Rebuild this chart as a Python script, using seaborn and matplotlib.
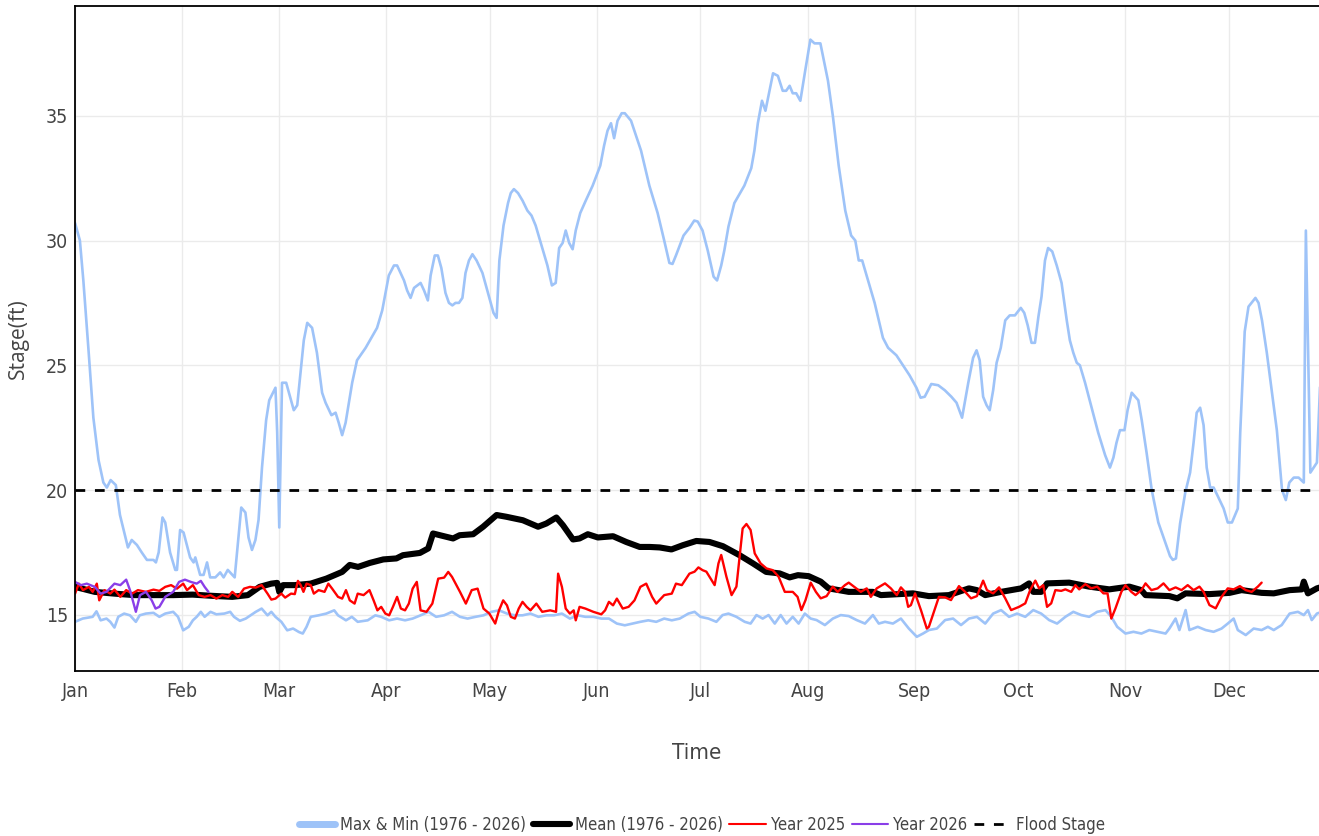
import copy
import numpy as np
import pandas as pd
import matplotlib
matplotlib.use('Agg')
import matplotlib.pyplot as plt
from matplotlib import font_manager
import seaborn as sns

# Day of year (0 = Jan 1) and stage (ft)
max_day = [0, 1.4, 2.4, 3.9, 5.3, 6.8, 8.2, 9.2, 10.3, 11.8, 13.0, 15.3, 16.4, 17.9, 19.3,
           20.8, 22.7, 23.4, 24.2, 25.3, 26.1, 27.5, 29.0, 29.5, 30.4, 31.4, 33.3, 34.3, 34.8,
           36.2, 37.2, 38.2, 39.1, 40.6, 42.0, 43.0, 44.2, 46.2, 48.1, 49.3, 50.2, 51.2, 52.2,
           53.1, 54.1, 55.3, 56.2, 58.0, 58.5, 59.1, 59.9, 61.1, 63.3, 64.3, 66.2, 67.2, 68.6,
           70.0, 71.5, 72.5, 74.2, 75.4, 76.3, 77.3, 78.3, 80.2, 81.6, 84.1, 87.4, 88.9, 90.8,
           92.3, 93.2, 95.2, 96.1, 97.1, 98.1, 100.0, 101.0, 102.1, 102.9, 104.1, 105.0, 106.0,
           107.2, 108.2, 109.2, 110.1, 111.1, 112.1, 113.0, 114.0, 115.0, 116.2, 117.9, 119.3,
           121.1, 122.0, 122.8, 124.0, 125.3, 126.1, 127.0, 128.2, 129.5, 130.9, 132.1, 133.3,
           134.8, 136.7, 138.0, 139.1, 140.1, 141.1, 142.0, 143.0, 144.0, 144.9, 146.2, 147.8,
           149.8, 152.0, 153.1, 154.1, 155.1, 156.0, 157.0, 158.2, 159.1, 160.9, 163.8, 166.2,
           168.6, 170.5, 172.0, 172.9, 173.9, 176.1, 177.8, 179.2, 180.2, 181.6, 183.1, 184.8,
           185.8, 187.0, 187.9, 189.1, 190.8, 193.7, 195.7, 196.6, 197.6, 198.8, 199.8, 202.0,
           203.4, 204.8, 205.8, 206.8, 207.7, 208.7, 209.9, 211.3, 212.8, 214.0, 215.7, 217.9,
           219.3, 221.0, 222.9, 224.6, 225.8, 226.8, 227.8, 229.5, 231.4, 233.8, 235.3, 237.7,
           239.6, 241.5, 243.5, 244.7, 245.9, 247.8, 249.8, 251.7, 253.6, 255.1, 256.7, 258.5,
           259.9, 260.9, 261.8, 262.8, 263.8, 264.7, 265.7, 266.7, 267.9, 269.2, 270.5, 272.0,
           273.7, 274.7, 275.7, 276.8, 277.8, 278.8, 279.7, 280.7, 281.6, 282.8, 284.1, 285.5,
           287.0, 287.9, 288.9, 289.9, 290.8, 292.3, 294.2, 296.1, 298.1, 299.5, 300.5, 301.4,
           302.4, 303.7, 304.6, 305.8, 307.7, 308.7, 310.1, 311.6, 313.5, 315.5, 316.9, 317.7,
           318.6, 319.8, 321.3, 322.7, 323.7, 324.6, 325.6, 326.6, 327.5, 328.5, 329.5, 330.9,
           332.4, 333.6, 334.8, 336.5, 337.2, 338.5, 339.6, 341.6, 342.5, 343.5, 344.9, 346.4,
           347.8, 349.3, 350.4, 351.4, 352.7, 354.1, 355.6, 356.2, 357.5, 359.4, 360.4]
max_stage = [30.7, 30.0, 28.4, 25.6, 22.9, 21.2, 20.3, 20.1, 20.4, 20.2, 19.0, 17.7, 18.0, 17.8, 17.5,
             17.2, 17.2, 17.1, 17.5, 18.9, 18.7, 17.5, 16.8, 16.8, 18.4, 18.3, 17.3, 17.1, 17.3,
             16.6, 16.6, 17.1, 16.5, 16.5, 16.7, 16.5, 16.8, 16.5, 19.3, 19.1, 18.1, 17.6, 18.0,
             18.8, 20.9, 22.8, 23.6, 24.1, 22.3, 18.5, 24.3, 24.3, 23.2, 23.4, 26.0, 26.7, 26.5,
             25.5, 23.9, 23.5, 23.0, 23.1, 22.7, 22.2, 22.7, 24.3, 25.2, 25.7, 26.5, 27.2, 28.6,
             29.0, 29.0, 28.4, 28.0, 27.7, 28.1, 28.3, 28.0, 27.6, 28.6, 29.4, 29.4, 28.9,
             27.9, 27.5, 27.4, 27.5, 27.5, 27.7, 28.7, 29.2, 29.45, 29.2, 28.7, 28.0,
             27.1, 26.9, 29.2, 30.6, 31.5, 31.9, 32.06, 31.9, 31.6, 31.2, 31.0, 30.6,
             29.9, 29.0, 28.2, 28.3, 29.7, 29.9, 30.4, 29.9, 29.65, 30.4, 31.1, 31.6,
             32.2, 33.0, 33.8, 34.4, 34.7, 34.1, 34.8, 35.1, 35.1, 34.8, 33.6, 32.2,
             31.1, 30.0, 29.1, 29.06, 29.4, 30.2, 30.5, 30.8, 30.76, 30.4, 29.6, 28.55,
             28.4, 29.0, 29.6, 30.56, 31.5, 32.2, 32.9, 33.6, 34.7, 35.6, 35.2, 36.7,
             36.6, 36.0, 36.0, 36.2, 35.9, 35.9, 35.6, 36.8, 38.05, 37.9, 37.9, 36.4,
             35.0, 33.0, 31.2, 30.2, 30.0, 29.2, 29.2, 28.4, 27.5, 26.1, 25.7, 25.4,
             25.0, 24.6, 24.1, 23.7, 23.74, 24.25, 24.2, 24.0, 23.74, 23.5, 22.9, 24.3,
             25.3, 25.6, 25.2, 23.74, 23.4, 23.2, 24.0, 25.1, 25.7, 26.8, 27.0, 27.0,
             27.3, 27.1, 26.6, 25.9, 25.9, 26.95, 27.75, 29.2, 29.7, 29.56, 29.0, 28.3,
             26.8, 26.0, 25.5, 25.1, 25.0, 24.3, 23.3, 22.3, 21.4, 20.9, 21.3, 21.9,
             22.4, 22.4, 23.2, 23.9, 23.6, 22.8, 21.5, 20.0, 18.7, 17.9, 17.35, 17.2,
             17.26, 18.66, 19.9, 20.7, 21.9, 23.1, 23.3, 22.6, 20.9, 20.1, 20.1, 19.7,
             19.26, 18.7, 18.7, 19.26, 22.3, 26.35, 27.35, 27.7, 27.5, 26.8, 25.5, 23.9,
             22.4, 20.0, 19.6, 20.3, 20.5, 20.5, 20.3, 30.4, 20.7, 21.1, 24.5]

min_day = [0, 2.2, 5.1, 6.2, 7.4, 9.1, 10.2, 11.4, 12.5, 14.2, 15.9, 17.6, 18.7, 20.5, 22.7,
           24.4, 26.1, 28.4, 29.8, 31.3, 32.9, 34.1, 35.2, 36.4, 37.5, 39.2, 40.9, 43.2, 44.9,
           46.0, 47.7, 49.4, 52.3, 54.0, 55.7, 56.8, 58.0, 59.7, 61.4, 63.1, 64.8, 65.9, 67.0,
           68.2, 70.5, 72.7, 75.0, 76.1, 78.4, 80.1, 81.8, 84.7, 86.9, 88.6, 90.9, 93.2, 95.5,
           97.7, 100.0, 102.3, 104.5, 106.8, 109.1, 111.4, 113.6, 115.9, 118.2, 120.5, 122.7,
           125.0, 127.3, 129.5, 131.8, 134.1, 136.4, 138.6, 140.9, 143.2, 145.5, 147.7,
           150.0, 152.3, 154.5, 156.8, 159.1, 161.4, 163.6, 165.9, 168.2, 170.5, 172.7,
           175.0, 177.5, 179.3, 181.0, 183.3, 185.6, 187.4, 189.1, 191.4, 193.8, 195.5,
           197.2, 199.0, 200.7, 202.5, 204.2, 205.9, 207.7, 209.4, 211.2, 212.9, 214.6,
           217.0, 219.3, 221.6, 223.9, 226.2, 228.6, 230.9, 232.6, 234.4, 236.7, 239.0,
           241.3, 243.6, 245.4, 247.1, 249.4, 251.8, 254.1, 256.4, 258.7, 261.0, 263.4,
           265.7, 268.0, 270.3, 272.6, 275.0, 277.3, 279.6, 281.9, 284.2, 286.6, 288.9,
           291.2, 293.5, 295.8, 298.2, 299.9, 301.6, 304.0, 306.3, 308.6, 310.9, 313.3,
           315.6, 316.7, 318.5, 319.6, 321.4, 322.5, 324.9, 327.2, 329.5, 331.8, 333.6,
           335.3, 336.5, 338.8, 341.1, 343.4, 345.2, 346.9, 349.2, 351.5, 353.9, 355.6,
           356.8, 357.9, 359.4, 360.4]
min_stage = [14.72, 14.85, 14.92, 15.14, 14.78, 14.85, 14.72, 14.49, 14.92, 15.05, 14.98, 14.72, 14.98, 15.05, 15.08,
             14.92, 15.05, 15.12, 14.92, 14.38, 14.52, 14.78, 14.92, 15.12, 14.92, 15.12, 15.02, 15.05, 15.12,
             14.92, 14.76, 14.85, 15.12, 15.25, 14.98, 15.12, 14.92, 14.72, 14.38, 14.45, 14.31, 14.25, 14.52,
             14.92, 14.98, 15.05, 15.18, 14.98, 14.78, 14.92, 14.72, 14.78, 14.98, 14.92, 14.78, 14.85, 14.78,
             14.85, 14.98, 15.12, 14.92, 14.98, 15.12, 14.92, 14.85, 14.92, 14.98, 15.12, 15.18,
             15.05, 14.98, 14.98, 15.05, 14.92, 14.98, 14.98, 15.05, 14.85, 14.98,
             14.92, 14.92, 14.85, 14.85, 14.65, 14.58, 14.65, 14.72, 14.78, 14.72, 14.85,
             14.78, 14.85, 15.05, 15.12, 14.92, 14.85, 14.72, 14.99, 15.05, 14.92, 14.72, 14.65,
             14.99, 14.85, 14.99, 14.65, 14.99, 14.65, 14.92, 14.65, 15.05, 14.85, 14.79,
             14.59, 14.85, 14.99, 14.95, 14.79, 14.65, 14.99, 14.65, 14.72, 14.65, 14.85,
             14.45, 14.12, 14.25, 14.39, 14.45, 14.79, 14.85, 14.59, 14.85, 14.92, 14.65,
             15.05, 15.19, 14.92, 15.05, 14.92, 15.19, 15.05, 14.79, 14.65, 14.92, 15.12,
             14.99, 14.92, 15.12, 15.19, 14.92, 14.52, 14.25, 14.32, 14.25, 14.39, 14.32,
             14.25, 14.45, 14.85, 14.39, 15.19, 14.39, 14.52, 14.39, 14.32, 14.45, 14.65,
             14.85, 14.39, 14.19, 14.45, 14.39, 14.52, 14.39, 14.59, 15.05, 15.12, 14.99,
             15.19, 14.79, 15.05, 15.1]

mean_day = [0, 5.7, 11.4, 17.0, 22.7, 28.4, 34.0, 39.8, 45.5, 50.0, 53.4, 56.8, 58.5, 59.1, 60.2,
            63.6, 68.2, 72.7, 77.3, 79.5, 81.9, 85.3, 89.2, 93.0, 94.9, 99.8, 102.2, 103.6, 105.6,
            109.4, 111.3, 115.2, 118.1, 122.0, 124.8, 129.6, 134.0, 136.4, 139.3, 141.2, 144.1,
            146.0, 148.4, 151.3, 155.7, 159.5, 163.4, 166.3, 169.2, 172.6, 175.9, 179.8, 183.6,
            187.5, 192.3, 196.2, 200.0, 203.9, 206.8, 209.2, 212.3, 215.8, 218.1, 223.9, 230.9,
            233.2, 242.5, 247.1, 252.9, 258.7, 261.0, 263.4, 268.0, 273.8, 276.1, 277.3, 279.6,
            281.3, 287.7, 293.5, 299.3, 305.1, 308.6, 309.8, 316.7, 319.0, 321.4, 328.3, 334.1,
            337.6, 343.4, 346.9, 351.5, 355.0, 355.6, 356.8, 359.4, 360.4]
mean_stage = [16.12, 15.92, 15.85, 15.79, 15.79, 15.79, 15.81, 15.76, 15.72, 15.79, 16.12, 16.25, 16.28, 15.92, 16.19,
              16.19, 16.25, 16.45, 16.72, 17.0, 16.92, 17.08, 17.22, 17.26, 17.39, 17.48, 17.66, 18.26, 18.19,
              18.06, 18.19, 18.23, 18.53, 19.0, 18.93, 18.79, 18.53, 18.66, 18.9, 18.59, 18.02,
              18.06, 18.23, 18.1, 18.15, 17.92, 17.72, 17.72, 17.7, 17.62, 17.79, 17.96, 17.92,
              17.75, 17.39, 17.06, 16.72, 16.66, 16.5, 16.59, 16.55, 16.33, 16.06, 15.92, 15.92,
              15.79, 15.86, 15.75, 15.79, 16.06, 15.99, 15.79, 15.92, 16.06, 16.26, 15.92, 15.92,
              16.26, 16.29, 16.13, 16.02, 16.13, 15.99, 15.79, 15.75, 15.66, 15.86, 15.83, 15.88,
              15.99, 15.88, 15.86, 15.99, 16.02, 16.33, 15.86, 16.06, 16.1]

y2025_day = [0, 1.1, 2.3, 4.0, 5.1, 6.3, 7.0, 8.5, 10.2, 11.4, 13.1, 14.8, 16.5, 18.2, 20.5,
             22.7, 24.4, 26.1, 27.8, 29.5, 31.3, 32.4, 34.1, 35.8, 37.5, 39.2, 40.9, 42.6, 44.3,
             45.5, 47.2, 48.9, 50.6, 52.3, 54.0, 55.7, 56.8, 58.0, 59.7, 60.8, 62.5, 63.6, 64.5,
             65.3, 66.1, 67.0, 68.2, 69.1, 70.5, 72.2, 73.3, 74.4, 76.1, 77.3, 78.4, 79.5, 80.9,
             81.8, 83.5, 85.2, 86.4, 87.5, 88.6, 89.8, 90.9, 92.0, 93.2, 94.3, 95.5, 96.6, 97.7,
             98.9, 100.0, 101.7, 103.4, 105.1, 106.8, 108.0, 109.1, 111.4, 113.1, 114.8, 116.5,
             118.2, 119.9, 121.6, 122.7, 123.9, 125.0, 126.1, 127.3, 128.4, 129.5, 130.7, 131.8,
             133.5, 135.2, 137.5, 139.2, 139.8, 140.9, 142.0, 143.2, 144.3, 144.9, 146.0, 147.7,
             150.0, 152.3, 153.4, 154.5, 155.7, 156.8, 158.5, 160.2, 161.9, 163.6, 165.3, 167.0,
             168.2, 170.5, 172.7, 173.9, 175.6, 177.8, 179.3, 180.4, 181.6, 182.7, 185.1, 186.2,
             187.0, 188.5, 190.0, 191.4, 193.2, 194.3, 195.5, 196.7, 198.4, 200.1, 201.9, 203.6,
             205.4, 207.7, 209.1, 210.2, 211.4, 212.9, 214.4, 215.8, 217.5, 219.3, 220.7, 222.8,
             223.9, 225.7, 227.4, 229.1, 230.3, 232.0, 234.4, 236.1, 237.8, 239.0, 240.2, 241.1,
             241.9, 243.1, 244.8, 246.5, 247.1, 248.9, 250.0, 251.8, 253.5, 255.8, 257.6, 259.3,
             261.0, 262.8, 263.9, 265.7, 267.4, 269.2, 270.9, 273.2, 275.0, 276.4, 277.9, 279.0,
             280.2, 281.3, 282.5, 283.7, 285.4, 286.6, 288.3, 289.5, 290.6, 292.4, 294.1, 295.8,
             297.6, 298.8, 299.9, 301.1, 302.8, 304.0, 305.7, 306.9, 308.6, 309.8, 311.5, 313.3,
             315.0, 316.7, 318.5, 320.2, 322.0, 323.7, 325.4, 326.6, 328.3, 330.1, 331.8, 333.6,
             335.3, 337.1, 338.8, 340.5, 342.3, 343.4]
y2025_stage = [15.85, 16.25, 15.99, 16.12, 15.92, 16.25, 15.58, 15.99, 15.85, 16.01, 15.72, 15.99, 15.85, 15.99, 15.92,
               16.01, 15.96, 16.12, 16.19, 16.05, 16.25, 15.99, 16.19, 15.79, 15.72, 15.79, 15.65, 15.79, 15.72,
               15.92, 15.72, 16.05, 16.12, 16.09, 16.19, 15.85, 15.61, 15.65, 15.85, 15.69, 15.85, 15.83, 16.36,
               16.19, 15.92, 16.25, 16.19, 15.85, 15.99, 15.92, 16.25, 16.05, 15.72, 15.65, 15.99, 15.58, 15.45,
               15.85, 15.79, 15.99, 15.58, 15.18, 15.32, 15.05, 14.98, 15.32, 15.72, 15.25, 15.18, 15.45, 16.05,
               16.32, 15.18, 15.12, 15.45, 16.45, 16.49, 16.72, 16.52, 15.92, 15.45, 15.99, 16.05,
               15.25, 15.05, 14.65, 15.18, 15.58, 15.38, 14.92, 14.85, 15.25, 15.52, 15.32, 15.18,
               15.45, 15.12, 15.18, 15.12, 16.65, 16.12, 15.25, 15.05, 15.18, 14.78, 15.32, 15.25,
               15.12, 15.02, 15.18, 15.52, 15.38, 15.65, 15.25, 15.32, 15.58, 16.12, 16.25, 15.72,
               15.45, 15.79, 15.85, 16.25, 16.19, 16.65, 16.73, 16.9, 16.79, 16.73, 16.19, 17.06,
               17.4, 16.53, 15.79, 16.13, 18.46, 18.64, 18.4, 17.46, 17.06, 16.86, 16.79, 16.53,
               15.92, 15.92, 15.72, 15.19, 15.59, 16.29, 15.92, 15.66, 15.75, 16.13, 15.92, 16.19,
               16.29, 16.1, 15.92, 16.06, 15.72, 16.06, 16.26, 16.06, 15.79, 16.1, 15.92, 15.32,
               15.39, 15.86, 15.19, 14.45, 14.52, 15.26, 15.72, 15.7, 15.59, 16.15, 15.92, 15.66,
               15.75, 16.37, 15.99, 15.86, 16.1, 15.66, 15.19, 15.32, 15.46, 15.99, 16.37, 16.06,
               16.19, 15.32, 15.46, 15.99, 15.96, 16.02, 15.92, 16.19, 16.02, 16.23, 16.06, 16.13,
               15.86, 15.86, 14.85, 15.26, 15.92, 16.19, 15.92, 15.79, 15.99, 16.26, 15.99, 16.06,
               16.26, 15.99, 16.1, 15.99, 16.19, 15.99, 16.13, 15.92, 15.39, 15.26, 15.72, 16.06,
               16.02, 16.15, 15.99, 15.92, 16.13, 16.29]

y2026_day = [0, 1.7, 3.4, 5.7, 7.4, 9.1, 11.4, 13.1, 14.8, 15.9, 17.6, 18.8, 20.5, 22.2, 23.3,
             24.4, 26.1, 28.4, 30.1, 31.8, 33.5, 35.2, 36.4, 37.5, 38.6]
y2026_stage = [16.32, 16.19, 16.25, 16.12, 15.85, 15.92, 16.25, 16.19, 16.41, 15.99, 15.12, 15.79, 15.92, 15.58, 15.25,
               15.32, 15.72, 15.92, 16.32, 16.41, 16.32, 16.25, 16.36, 16.12, 15.92]

flood_stage = 20
month_days = [0, 31, 59, 90, 120, 151, 181, 212, 243, 273, 304, 334]
month_labels = ['Jan', 'Feb', 'Mar', 'Apr', 'May', 'Jun', 'Jul', 'Aug', 'Sep', 'Oct', 'Nov', 'Dec']

sns.set_theme(style='white')

# narrow face for ticks / legend if one is installed
names = {f.name for f in font_manager.fontManager.ttflist}
condensed = [f for f in font_manager.fontManager.ttflist
             if f.name == 'DejaVu Sans' and 'ondensed' in str(f.stretch) + f.fname]
if 'Liberation Sans Narrow' in names:
    plt.rcParams['font.family'] = ['Liberation Sans Narrow', 'DejaVu Sans']
elif condensed:
    plt.rcParams['font.family'] = ['DejaVu Sans']
    plt.rcParams['font.stretch'] = 'condensed'
else:
    plt.rcParams['font.family'] = ['DejaVu Sans']
narrow_found = ('Liberation Sans Narrow' in names) or bool(condensed)
tick_size = 14 if narrow_found else 12.5
legend_size = 12 if narrow_found else 10.5

fig = plt.figure(figsize=(13.19, 8.36), dpi=100)
ax = fig.add_axes([0.0569, 0.1974, 0.9431, 0.7955])

c_range = '#9ec3f8'
sns.lineplot(x=max_day, y=max_stage, color=c_range, linewidth=1.9, sort=False,
             estimator=None, label='Max & Min (1976 - 2026)', ax=ax)
sns.lineplot(x=min_day, y=min_stage, color=c_range, linewidth=1.9, sort=False,
             estimator=None, ax=ax)
sns.lineplot(x=mean_day, y=mean_stage, color='black', linewidth=4.4, sort=False,
             estimator=None, label='Mean (1976 - 2026)', ax=ax)
sns.lineplot(x=y2025_day, y=y2025_stage, color='#ff0000', linewidth=1.7, sort=False,
             estimator=None, label='Year 2025', ax=ax)
sns.lineplot(x=y2026_day, y=y2026_stage, color='#8a3ee8', linewidth=1.7, sort=False,
             estimator=None, label='Year 2026', ax=ax)
ax.axhline(flood_stage, color='black', linewidth=2.0, dashes=(3.5, 3.5), label='Flood Stage')

ax.set_xlim(0, 360)
ax.set_ylim(12.75, 39.4)
ax.set_xticks(month_days)
ax.set_xticklabels(month_labels)
ax.set_yticks([15, 20, 25, 30, 35])
ax.grid(True, color='#ebebeb', linewidth=1.0)
ax.set_axisbelow(True)
ax.tick_params(axis='both', length=0, labelsize=tick_size, colors='#444444')
ax.tick_params(axis='x', pad=8)
ax.tick_params(axis='y', pad=5)

for side in ['left', 'bottom', 'top']:
    ax.spines[side].set_visible(True)
    ax.spines[side].set_color('black')
    ax.spines[side].set_linewidth(1.3)
ax.spines['right'].set_visible(False)

ax.set_xlabel('Time', fontsize=tick_size + 2, color='#444444', labelpad=30)
ax.set_ylabel('Stage(ft)', fontsize=15, color='#444444', labelpad=12,
              family=['Open Sans', 'DejaVu Sans'], fontstretch='normal')

handles, labels = ax.get_legend_handles_labels()
ax.get_legend().remove()
handles = [copy.copy(h) for h in handles]
handles[0].set_linewidth(5)
handles[2].set_linewidth(1.5)
handles[3].set_linewidth(1.5)
fig.legend(handles, labels, loc='center', bbox_to_anchor=(0.532, 0.013), ncol=5,
           frameon=False, fontsize=legend_size, handlelength=2.2, handletextpad=0.3,
           columnspacing=0.4, labelcolor='#444444')

fig.savefig('out.png', dpi=100)
